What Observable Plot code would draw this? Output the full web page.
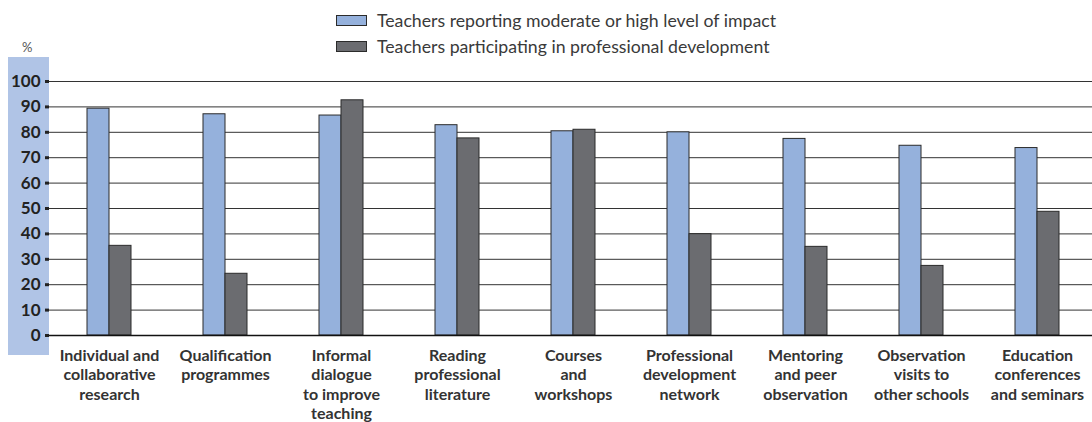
<!DOCTYPE html>
<html><head><meta charset="utf-8">
<script src="https://cdn.jsdelivr.net/npm/d3@7"></script>
<script src="https://cdn.jsdelivr.net/npm/@observablehq/plot@0.6"></script>
<style>
body{margin:0;background:#fff;font-family:Lato,sans-serif;}
#wrap{position:relative;width:1092px;height:422px;overflow:hidden}
#legend{position:relative;height:57px}
.item{position:absolute;left:336px;display:flex;align-items:center;font-size:17.7px;color:#3a3a3a;white-space:nowrap;height:20px}
.sw{width:31px;height:11px;border:1px solid #2b2b2b;box-sizing:border-box;margin-right:10px}
.pct{position:absolute;left:22px;top:39px;font-size:13px;color:#555}
</style></head><body>
<div id="wrap"><div id="legend"></div><div id="chart"></div></div>
<script>
const categories = [
  "Individual and\ncollaborative\nresearch",
  "Qualification\nprogrammes",
  "Informal\ndialogue\nto improve\nteaching",
  "Reading\nprofessional\nliterature",
  "Courses\nand\nworkshops",
  "Professional\ndevelopment\nnetwork",
  "Mentoring\nand peer\nobservation",
  "Observation\nvisits to\nother schools",
  "Education\nconferences\nand seminars"
];
const impact = [89.3, 87.1, 86.6, 82.8, 80.4, 80.0, 77.4, 74.7, 73.8];
const participating = [35.3, 24.3, 92.6, 77.6, 81.0, 39.9, 34.9, 27.4, 48.7];
const seriesNames = ["Teachers reporting moderate or high level of impact", "Teachers participating in professional development"];
const seriesColors = ["#95b1dc", "#6b6c70"];
const yTicks = [0, 10, 20, 30, 40, 50, 60, 70, 80, 90, 100];
const yUnit = "%";

const legend = document.getElementById("legend");
seriesNames.forEach((name, i) => {
  const d = document.createElement("div");
  d.className = "item";
  d.style.top = (10 + i * 26) + "px";
  d.innerHTML = `<span class="sw" style="background:${seriesColors[i]}"></span><span>${name}</span>`;
  legend.appendChild(d);
});
const p = document.createElement("div");
p.className = "pct"; p.textContent = yUnit;
legend.appendChild(p);

const data = categories.map((c, i) => ({c, impact: impact[i], part: participating[i]}));

const chart = Plot.plot({
  width: 1092, height: 365,
  marginLeft: 49, marginRight: 0, marginTop: 24, marginBottom: 87,
  style: {fontFamily: "Lato, sans-serif", background: "transparent"},
  x: {domain: categories, range: [51, 1095], paddingInner: 0.62, paddingOuter: 0.31, label: null},
  y: {domain: [0, 100], label: null},
  marks: [
    Plot.ruleY(yTicks.filter(d => d > 0), {stroke: "#333", strokeWidth: 1}),
    Plot.barY(data, {x: "c", y: "impact", fill: seriesColors[0], stroke: "#2b2b2b", strokeWidth: 1, insetRight: 22}),
    Plot.barY(data, {x: "c", y: "part", fill: seriesColors[1], stroke: "#2b2b2b", strokeWidth: 1, insetLeft: 22}),
    Plot.ruleY([0], {stroke: "#111", strokeWidth: 1.5}),
    Plot.axisY({ticks: yTicks, tickSize: 4, tickPadding: 5, strokeWidth: 3, fontSize: 17, fontWeight: "bold", color: "#222", label: null}),
    Plot.axisX({tickSize: 0, tickPadding: 12, fontSize: 16, fontWeight: "bold", lineHeight: 1.2, color: "#333", label: null})
  ]
});
d3.select(chart).insert("rect", ":first-child")
  .attr("x", 8).attr("y", 0).attr("width", 41).attr("height", 298).attr("fill", "#b0c4e6");
document.getElementById("chart").appendChild(chart);
</script>
</body></html>
